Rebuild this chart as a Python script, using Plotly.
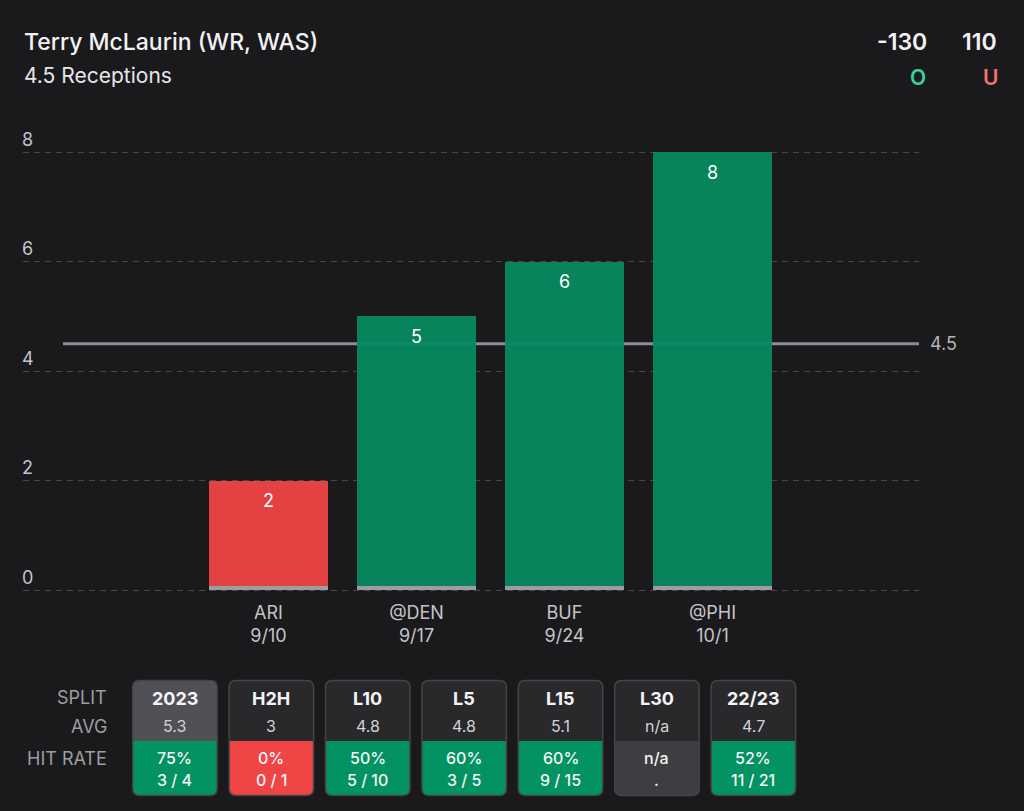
import plotly.graph_objects as go

# ---------------- data ----------------
player = "Terry McLaurin (WR, WAS)"
prop_label = "4.5 Receptions"
over_odds = "-130"
under_odds = "110"
prop_line = 4.5

opponents = ["ARI", "@DEN", "BUF", "@PHI"]
dates = ["9/10", "9/17", "9/24", "10/1"]
receptions = [2, 5, 6, 8]
y_ticks = [0, 2, 4, 6, 8]

splits = ["2023", "H2H", "L10", "L5", "L15", "L30", "22/23"]
split_avgs = ["5.3", "3", "4.8", "4.8", "5.1", "n/a", "4.7"]
hit_pct = ["75%", "0%", "50%", "60%", "60%", "n/a", "52%"]
hit_frac = ["3 / 4", "0 / 1", "5 / 10", "3 / 5", "9 / 15", ".", "11 / 21"]

# ---------------- style ----------------
BG = "#1a1a1c"
GREEN = "#068a60"
RED = "#ef4545"
GREEN_TXT = "#34d399"
RED_TXT = "#f87171"
GRID = "#48484b"
TICK = "#c4c4c8"
FONT = "Inter"

W, H = 1024, 811
ML, MR, MT, MB = 23, 105, 120, 211
PW = W - ML - MR
PH = H - MT - MB
PX_PER_UNIT = 54.75
X0_PX, X_STEP = 268.5, 148.0
Y0_PX = 590


def px2x(px):
    return (px - ML) / PW


def py2y(py):
    return (H - MB - py) / PH


x_pos = list(range(len(opponents)))
bar_colors = [GREEN if v > prop_line else RED for v in receptions]

fig = go.Figure()
fig.add_trace(go.Bar(
    x=x_pos, y=receptions, width=0.804,
    marker=dict(color=bar_colors, line=dict(width=0)),
    opacity=0.95, hoverinfo="skip", showlegend=False,
))
fig.add_trace(go.Bar(
    x=x_pos, y=[4 / PX_PER_UNIT] * len(x_pos), width=0.804,
    marker=dict(color="#9c9ca2", line=dict(width=0)),
    hoverinfo="skip", showlegend=False,
))

x_min = (ML - X0_PX) / X_STEP
x_max = (W - MR - X0_PX) / X_STEP
y_min = -((H - MB) - Y0_PX) / PX_PER_UNIT
y_max = 8 + (152 - MT) / PX_PER_UNIT

fig.update_layout(
    width=W, height=H,
    margin=dict(l=ML, r=MR, t=MT, b=MB, pad=0),
    paper_bgcolor=BG, plot_bgcolor=BG,
    barmode="overlay", bargap=0,
    font=dict(family=FONT, color=TICK),
    xaxis=dict(
        range=[x_min, x_max], tickvals=x_pos,
        ticktext=[f"{o}<br>{d}" for o, d in zip(opponents, dates)],
        showgrid=False, zeroline=False, showline=False, ticks="",
        tickfont=dict(size=18, color=TICK, family=FONT),
        fixedrange=True,
    ),
    yaxis=dict(
        range=[y_min, y_max], tickvals=y_ticks,
        showgrid=True, gridcolor=GRID, gridwidth=1, griddash="6px,5px",
        zeroline=False, showline=False, ticks="",
        ticklabelposition="inside top", ticklabelstandoff=-4,
        tickfont=dict(size=18, color=TICK, family=FONT),
        fixedrange=True,
    ),
)

# prop line
fig.add_shape(type="line", xref="paper", yref="y",
              x0=px2x(63), x1=px2x(919), y0=prop_line, y1=prop_line,
              line=dict(color="#8d8d92", width=3), layer="below")
fig.add_annotation(xref="paper", yref="y", x=px2x(928), y=prop_line,
                   text=str(prop_line), showarrow=False, xanchor="left",
                   font=dict(size=18, color="#b4b4b8", family=FONT))

# bar value labels
for xi, v in zip(x_pos, receptions):
    fig.add_annotation(x=xi, y=v, yshift=-20, text=str(v), showarrow=False,
                       font=dict(size=18, color="white", family=FONT))

# header
fig.add_annotation(xref="paper", yref="paper", x=px2x(22), y=py2y(42),
                   text=player, showarrow=False, xanchor="left", yanchor="middle",
                   font=dict(size=23, color="#f2f2f4", family=FONT, weight=500))
fig.add_annotation(xref="paper", yref="paper", x=px2x(22), y=py2y(75),
                   text=prop_label, showarrow=False, xanchor="left", yanchor="middle",
                   font=dict(size=21, color="#e6e6ea", family=FONT))
fig.add_annotation(xref="paper", yref="paper", x=px2x(929), y=py2y(42),
                   text=over_odds, showarrow=False, xanchor="right", yanchor="middle",
                   font=dict(size=23, color="#f2f2f4", family=FONT, weight=600))
fig.add_annotation(xref="paper", yref="paper", x=px2x(999), y=py2y(42),
                   text=under_odds, showarrow=False, xanchor="right", yanchor="middle",
                   font=dict(size=23, color="#f2f2f4", family=FONT, weight=600))
fig.add_annotation(xref="paper", yref="paper", x=px2x(918), y=py2y(77),
                   text="O", showarrow=False, xanchor="center", yanchor="middle",
                   font=dict(size=21, color=GREEN_TXT, family=FONT, weight=600))
fig.add_annotation(xref="paper", yref="paper", x=px2x(990), y=py2y(77),
                   text="U", showarrow=False, xanchor="center", yanchor="middle",
                   font=dict(size=21, color=RED_TXT, family=FONT, weight=600))

# ---------------- split table ----------------
row_labels = ["SPLIT", "AVG", "HIT RATE"]
row_y = [697, 726, 758]
for lab, yy in zip(row_labels, row_y):
    fig.add_annotation(xref="paper", yref="paper", x=px2x(109), y=py2y(yy),
                       text=lab, showarrow=False, xanchor="right", yanchor="middle",
                       font=dict(size=18, color="#9e9ea3", family=FONT))


def rpath(x0, y0, x1, y1, rt, rb):
    """Rounded-rectangle path in pixel coords -> paper coords."""
    def P(px, py):
        return f"{px2x(px):.5f},{py2y(py):.5f}"
    return (f"M{P(x0 + rt, y0)} L{P(x1 - rt, y0)} Q{P(x1, y0)} {P(x1, y0 + rt)} "
            f"L{P(x1, y1 - rb)} Q{P(x1, y1)} {P(x1 - rb, y1)} "
            f"L{P(x0 + rb, y1)} Q{P(x0, y1)} {P(x0, y1 - rb)} "
            f"L{P(x0, y0 + rt)} Q{P(x0, y0)} {P(x0 + rt, y0)} Z")


BOX_LEFT0, BOX_STEP, BOX_W = 132.7, 96.4, 84.5
BOX_TOP, BOX_MID, BOX_BOT = 680.5, 741, 795.5
R = 7

for i, (s, a, p, f) in enumerate(zip(splits, split_avgs, hit_pct, hit_frac)):
    x0 = BOX_LEFT0 + i * BOX_STEP
    x1 = x0 + BOX_W
    top_fill = "#505056" if i == 0 else "#29292c"
    if p == "n/a":
        bot_fill = "#3d3d42"
    else:
        bot_fill = "#039262" if float(p.rstrip("%")) >= 50 else RED
    fig.add_shape(type="path", xref="paper", yref="paper",
                  path=rpath(x0, BOX_TOP, x1, BOX_MID, R, 0),
                  fillcolor=top_fill, line=dict(width=0), layer="above")
    fig.add_shape(type="path", xref="paper", yref="paper",
                  path=rpath(x0, BOX_MID, x1, BOX_BOT, 0, R),
                  fillcolor=bot_fill, line=dict(width=0), layer="above")
    fig.add_shape(type="path", xref="paper", yref="paper",
                  path=rpath(x0, BOX_TOP, x1, BOX_BOT, R, R),
                  fillcolor="rgba(0,0,0,0)", line=dict(color="#444447", width=1.5),
                  layer="above")
    cx = px2x((x0 + x1) / 2)
    fig.add_annotation(xref="paper", yref="paper", x=cx, y=py2y(698),
                       text=s, showarrow=False, xanchor="center", yanchor="middle",
                       font=dict(size=18, color="#f4f4f6", family=FONT, weight=700))
    fig.add_annotation(xref="paper", yref="paper", x=cx, y=py2y(726),
                       text=a, showarrow=False, xanchor="center", yanchor="middle",
                       font=dict(size=16, color="#d2d2d6", family=FONT))
    fig.add_annotation(xref="paper", yref="paper", x=cx, y=py2y(758),
                       text=p, showarrow=False, xanchor="center", yanchor="middle",
                       font=dict(size=16, color="#f4f4f6", family=FONT, weight=500))
    fig.add_annotation(xref="paper", yref="paper", x=cx, y=py2y(780),
                       text=f, showarrow=False, xanchor="center", yanchor="middle",
                       font=dict(size=16, color="#f4f4f6", family=FONT, weight=500))

fig.write_html(
    "out.html",
    config={"displayModeBar": False},
    post_script="document.body.style.margin='0';document.body.style.background='#1a1a1c';",
)
